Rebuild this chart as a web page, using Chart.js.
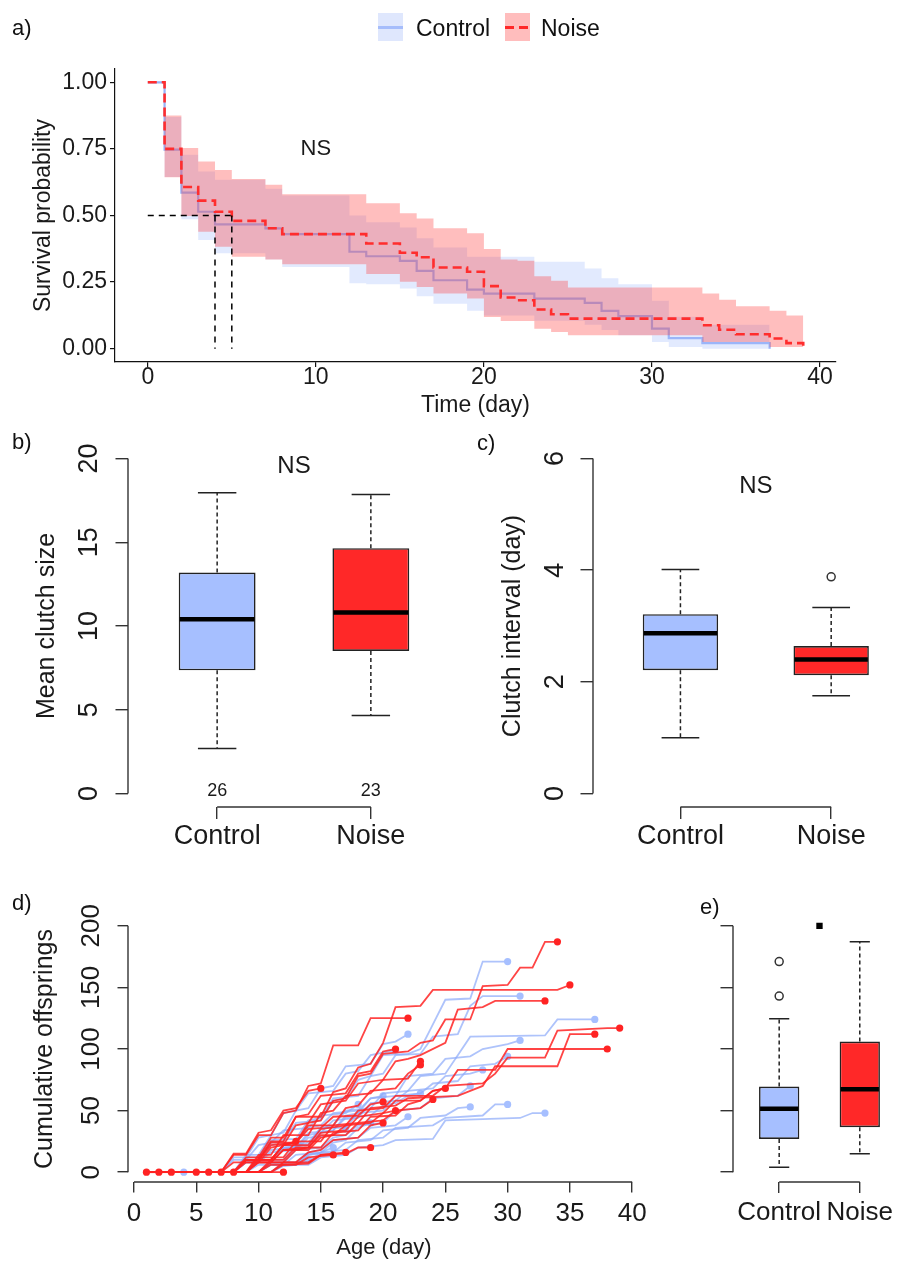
<!DOCTYPE html>
<html><head><meta charset="utf-8"><title>Survival and reproduction</title>
<script src="https://cdn.jsdelivr.net/npm/chart.js@4.4.1/dist/chart.umd.min.js"></script>
<style>
html,body{margin:0;padding:0;background:#fff;}
#wrap{position:relative;width:903px;height:1263px;overflow:hidden;font-family:"Liberation Sans",Arial,Helvetica,sans-serif;color:#111;}
#wrap canvas{position:absolute;}
.plab{position:absolute;font-size:22px;line-height:24px;color:#111;}
.key{position:absolute;top:13px;width:25px;height:28px;}
.key i{position:absolute;left:0;right:0;top:13px;height:3px;}
.ltxt{position:absolute;top:15px;font-size:23px;line-height:26px;white-space:nowrap;color:#111;}
</style></head><body>
<div id="wrap">
<canvas id="cA" width="903" height="420" style="left:0;top:0"></canvas>
<canvas id="cB" width="460" height="440" style="left:0;top:420px"></canvas>
<canvas id="cC" width="443" height="440" style="left:460px;top:420px"></canvas>
<canvas id="cD" width="690" height="403" style="left:0;top:860px"></canvas>
<canvas id="cE" width="213" height="403" style="left:690px;top:860px"></canvas>
<div class="plab" style="left:12px;top:16px">a)</div>
<div class="plab" style="left:12px;top:430px">b)</div>
<div class="plab" style="left:477px;top:431px">c)</div>
<div class="plab" style="left:12px;top:891px">d)</div>
<div class="plab" style="left:700px;top:895px">e)</div>
<div class="key" style="left:378px;background:#dfe7fd"><i style="background:#a6bdfb"></i></div>
<div class="ltxt" style="left:416px">Control</div>
<div class="key" style="left:505px;background:#ffbdbd"><i style="background:repeating-linear-gradient(90deg,#ff2828 0 9px,transparent 9px 14px)"></i></div>
<div class="ltxt" style="left:541px">Noise</div>
</div>
<script>
// ---------- Panel a : Kaplan-Meier survival (step starts, survival, 95% CI) ----------
const ctrlTime  = [0,1,2,3,4,7,8,12,13,15,16,17,19,20,23,26,27,28,30,31,33,37];
const ctrlSurv  = [1,0.747,0.586,0.514,0.467,0.452,0.430,0.364,0.347,0.330,0.292,0.257,0.222,0.207,0.188,0.172,0.142,0.122,0.075,0.040,0.021,0];
const ctrlUpper = [1,0.87,0.728,0.665,0.634,0.60,0.575,0.50,0.475,0.455,0.415,0.38,0.345,0.345,0.326,0.301,0.264,0.242,0.18,0.12,0.09];
const ctrlLower = [1,0.645,0.486,0.408,0.358,0.335,0.307,0.246,0.242,0.226,0.197,0.169,0.142,0.125,0.105,0.09,0.07,0.05,0.025,0.006,0];
const noiseTime  = [0,1,2,3,4,5,7,8,13,15,16,17,19,20,21,22,23,24,25,33,34,35,37,38,39];
const noiseSurv  = [1,0.75,0.607,0.556,0.514,0.480,0.452,0.430,0.395,0.360,0.343,0.305,0.289,0.235,0.192,0.182,0.147,0.129,0.113,0.088,0.071,0.054,0.038,0.021,0];
const noiseUpper = [1,0.875,0.753,0.703,0.671,0.637,0.615,0.58,0.546,0.508,0.489,0.452,0.433,0.374,0.335,0.33,0.272,0.255,0.230,0.207,0.184,0.159,0.142,0.125];
const noiseLower = [1,0.644,0.498,0.439,0.383,0.345,0.335,0.317,0.28,0.251,0.232,0.207,0.188,0.119,0.104,0.104,0.075,0.063,0.050,0.025,0.025,0.025,0.006,0.006];
const aXTicks = [0,10,20,30,40];
const aYTicks = [0,0.25,0.5,0.75,1];

// ---------- Panels b, c, e : box plots ----------
const groups = ['Control','Noise'];
const clutchLo=[2.69,4.66], clutchQ1=[7.36,8.51], clutchMed=[10.41,10.80], clutchQ3=[13.19,14.64], clutchHi=[17.95,17.85];
const clutchN=[26,23];
const bYTicks=[0,5,10,15,20];
const intLo=[1.0,1.75], intQ1=[2.21,2.12], intMed=[2.87,2.40], intQ3=[3.21,2.64], intHi=[4.01,3.33];
const intOut=[[],[3.88]];
const cYTicks=[0,2,4,6];
const offLo=[4,15], offQ1=[27,36.5], offMed=[51.4,67.4], offQ3=[69.5,106], offHi=[124.5,187];
const offOut=[[171,143],[]];
const offSig=[{x:1.5,y:200}];

// ---------- Panel d : cumulative offspring per individual (day, cumulative) ----------
const dXTicks=[0,5,10,15,20,25,30,35,40];
const dYTicks=[0,50,100,150,200];
const noiseTraj = [
 [1,0, 8,0, 9,10, 10,10, 11,24, 13,24, 14,40, 15,42, 16,58, 17,60, 18,78, 19,80, 20,96, 22,98, 23,105, 24,107, 25,124, 27,124, 28,151, 30,152, 31,166, 32,166, 33,187, 34,187],
 [1,0, 8,0, 9,10, 10,10, 11,25, 12,25, 13,45, 15,45, 16,65, 17,68, 18,85, 19,88, 20,105, 21,134, 23,135, 24,148, 34,148, 35,152],
 [1,0, 7,0, 8,8, 10,8, 11,20, 12,22, 13,38, 14,40, 15,55, 17,58, 18,72, 20,75, 21,90, 22,92, 23,95, 25,105, 26,132, 28,134, 29,139, 33,139],
 [1,0, 8,0, 9,10, 11,10, 12,22, 14,22, 15,35, 17,38, 18,50, 20,52, 21,62, 24,62, 25,70, 28,72, 29,80, 30,93, 33,93, 34,115, 38,117, 39,117],
 [1,0, 9,0, 10,12, 12,12, 13,25, 15,25, 16,38, 18,40, 19,52, 21,54, 22,60, 26,62, 27,66, 28,70, 29,86, 34,86, 35,112, 37,112],
 [1,0, 8,0, 9,8, 11,8, 12,18, 14,20, 15,32, 17,34, 18,45, 20,48, 21,58, 23,58, 24,66, 25,68, 26,83, 29,83, 30,100, 38,100],
 [1,0, 7,0, 8,14, 9,14, 10,30, 11,30, 12,48, 13,50, 14,70, 15,72, 16,103, 18,103, 19,125, 22,125],
 [1,0, 8,0, 9,12, 10,12, 11,28, 12,28, 13,45, 14,47, 15,62, 17,64, 18,80, 19,82, 20,98, 21,100],
 [1,0, 9,0, 10,14, 11,14, 12,30, 14,30, 15,48, 16,50, 17,62, 19,64, 20,75, 22,76, 23,90],
 [1,0, 8,0, 9,10, 11,10, 12,22, 13,24, 14,38, 16,38, 17,52, 18,54, 19,66, 21,68, 22,80, 23,87],
 [1,0, 10,0, 11,10, 12,10, 13,20, 15,20, 16,32, 18,34, 19,45, 21,46, 22,55, 23,58, 24,66, 25,68],
 [1,0, 9,0, 10,8, 12,8, 13,18, 14,20, 15,30, 17,30, 18,40, 20,42, 21,50, 23,52, 24,59],
 [1,0, 8,0, 9,10, 10,10, 11,22, 13,24, 14,35, 15,36, 16,45, 18,46, 19,55, 20,57],
 [1,0, 9,0, 10,8, 11,8, 12,18, 14,18, 15,28, 16,30, 17,38, 19,40, 20,48, 21,50],
 [1,0, 10,0, 11,8, 13,8, 14,16, 15,18, 16,26, 18,28, 19,38, 20,40],
 [1,0, 7,0, 8,15, 9,15, 10,32, 11,34, 12,50, 13,52, 14,66, 15,68],
 [1,0, 9,0, 10,10, 11,10, 12,22, 13,25],
 [1,0, 10,0, 11,6, 13,6, 14,12, 16,14],
 [1,0, 11,0, 12,8, 14,8, 15,14, 17,16],
 [1,0, 11,0, 12,6, 14,7, 15,14, 17,15, 18,20, 19,20],
 [1,0, 12,0],
 [1,0], [1,0, 2,0], [1,0, 3,0], [1,0, 5,0], [1,0, 6,0], [1,0, 7,0], [1,0, 8,0]
];
const ctrlTraj = [
 [1,0, 8,0, 9,10, 10,10, 11,24, 12,25, 13,40, 15,42, 16,58, 17,60, 18,75, 19,78, 20,95, 22,96, 23,100, 24,120, 25,140, 27,141, 28,171, 30,171],
 [1,0, 8,0, 9,12, 10,12, 11,26, 13,27, 14,42, 15,44, 16,60, 18,62, 19,78, 20,80, 21,95, 23,96, 24,110, 26,112, 27,135, 28,143, 31,143],
 [1,0, 9,0, 10,10, 11,10, 12,22, 14,22, 15,36, 16,38, 17,50, 19,52, 20,64, 22,66, 23,78, 25,80, 26,95, 27,110, 33,111, 34,124, 37,124],
 [1,0, 8,0, 9,8, 11,8, 12,20, 13,20, 14,32, 16,34, 17,46, 18,48, 19,60, 21,62, 22,78, 24,80, 25,92, 27,94, 28,100, 30,104, 31,107],
 [1,0, 9,0, 10,10, 12,10, 13,22, 14,24, 15,36, 17,36, 18,48, 20,50, 21,62, 23,64, 24,72, 26,74, 27,86, 29,88, 30,94],
 [1,0, 8,0, 9,8, 10,8, 11,18, 13,20, 14,30, 15,32, 16,42, 18,44, 19,56, 21,58, 22,66, 24,68, 25,78, 27,80, 28,83],
 [1,0, 9,0, 10,10, 11,10, 12,20, 14,22, 15,32, 16,34, 17,44, 19,46, 20,54, 21,56, 22,62, 23,64],
 [1,0, 10,0, 11,8, 12,8, 13,18, 15,20, 16,28, 17,30, 18,38, 20,40, 21,50, 23,52, 24,60, 26,62, 27,70],
 [1,0, 10,0, 11,6, 13,6, 14,14, 16,16, 17,24, 19,26, 20,34, 22,36, 23,44, 25,46, 26,52, 27,53],
 [1,0, 11,0, 12,8, 14,8, 15,16, 17,18, 18,26, 20,28, 21,36, 24,38, 25,44, 28,46, 29,55, 30,55],
 [1,0, 11,0, 12,6, 14,6, 15,12, 17,14, 18,20, 20,22, 21,26, 24,27, 25,42, 31,44, 32,48, 33,48],
 [1,0, 7,0, 8,12, 9,12, 10,28, 11,30, 12,48, 13,50, 14,64, 16,66, 17,80, 18,82, 19,95, 21,99],
 [1,0, 8,0, 9,14, 10,14, 11,30, 12,32, 13,50, 14,52, 15,68, 16,70, 17,86, 19,88, 20,104, 21,106, 22,112],
 [1,0, 8,0, 9,10, 10,10, 11,22, 13,24, 14,36, 15,38, 16,48, 18,50, 19,60, 20,62],
 [1,0, 10,0, 11,8, 13,8, 14,16, 15,18, 16,26, 18,28, 19,36, 21,38, 22,45],
 [1,0, 7,0, 8,10, 9,10, 10,22, 11,24, 12,34, 14,36, 15,46, 17,48, 18,55],
 [1,0, 9,0, 10,6, 12,6, 13,14, 15,16, 16,24, 17,26, 18,36, 19,40],
 [1,0, 8,0, 9,8, 10,8, 11,16, 13,18, 14,28, 16,30, 17,35],
 [1,0, 10,0, 11,6, 13,6, 14,14, 15,16, 16,20],
 [1,0, 11,0, 12,5, 13,6, 14,10],
 [1,0, 4,0]
];

// ---------- styling ----------
const FONT = '"Liberation Sans", Arial, Helvetica, sans-serif';
const INK = '#1a1a1a';
const BLUE = '#a6bfff', RED = '#ff2828';
Chart.defaults.font.family = FONT;
Chart.defaults.color = INK;

function pts(times, vals){ return vals.map((v,i)=>({x:times[i], y:v})); }
function band(times, vals){ const d = pts(times, vals); d.push({x:times[vals.length], y:vals[vals.length-1]}); return d; }
function pairs(a){ const d=[]; for(let i=0;i<a.length;i+=2) d.push({x:a[i], y:a[i+1]}); return d; }
function medianTime(times, surv){ for(let i=0;i<surv.length;i++) if(surv[i]<=0.5) return times[i]; return null; }
const setTicks = arr => s => { s.ticks = arr.map(v=>({value:v})); };

function baseOpts(){ return {responsive:false, devicePixelRatio:1, animation:false, events:[],
  plugins:{legend:{display:false}, tooltip:{enabled:false}}}; }

// R-style axes: lines span first..last tick, optional rotated y labels
function rAxis(cfg){
  return { id:'raxis', afterDraw(chart){
    const ctx=chart.ctx, ca=chart.chartArea;
    ctx.save(); ctx.strokeStyle='#333'; ctx.lineWidth=1.4;
    ['x','y'].forEach(k=>{
      const s=chart.scales[k], t=s.ticks; if(!t.length) return;
      const p0=s.getPixelForValue(t[0].value), p1=s.getPixelForValue(t[t.length-1].value);
      ctx.beginPath();
      if(k==='x'){ ctx.moveTo(p0,ca.bottom); ctx.lineTo(p1,ca.bottom); }
      else { ctx.moveTo(ca.left,p0); ctx.lineTo(ca.left,p1); }
      ctx.stroke();
    });
    if(cfg.yRot){
      const s=chart.scales.y;
      ctx.fillStyle=INK; ctx.font=cfg.yRot.size+'px '+FONT; ctx.textAlign='center'; ctx.textBaseline='middle';
      s.ticks.forEach(t=>{
        ctx.save(); ctx.translate(ca.left-cfg.yRot.off, s.getPixelForValue(t.value)); ctx.rotate(-Math.PI/2);
        ctx.fillText(String(t.value),0,0); ctx.restore();
      });
    }
    ctx.restore();
  }};
}
function texts(items){
  return { id:'texts', afterDraw(chart){
    const ctx=chart.ctx, xs=chart.scales.x, ys=chart.scales.y;
    ctx.save(); ctx.fillStyle=INK; ctx.textAlign='center'; ctx.textBaseline='middle';
    items.forEach(it=>{ ctx.font=it.size+'px '+FONT; ctx.fillText(it.text, xs.getPixelForValue(it.x), ys.getPixelForValue(it.y)+(it.dy||0)); });
    ctx.restore();
  }};
}
function boxExtras(s){
  return { id:'boxextras', afterDatasetsDraw(chart){
    const ctx=chart.ctx, ys=chart.scales.y, meta=chart.getDatasetMeta(0);
    const Y=v=>ys.getPixelForValue(v);
    s.med.forEach((m,i)=>{
      const el=meta.data[i], cx=el.x, hw=el.width/2;
      ctx.save(); ctx.strokeStyle='#222'; ctx.lineWidth=1.5;
      ctx.setLineDash([4,3]);
      ctx.beginPath(); ctx.moveTo(cx,Y(s.q3[i])); ctx.lineTo(cx,Y(s.hi[i]));
      ctx.moveTo(cx,Y(s.q1[i])); ctx.lineTo(cx,Y(s.lo[i])); ctx.stroke();
      ctx.setLineDash([]);
      ctx.beginPath(); ctx.moveTo(cx-hw/2,Y(s.hi[i])); ctx.lineTo(cx+hw/2,Y(s.hi[i]));
      ctx.moveTo(cx-hw/2,Y(s.lo[i])); ctx.lineTo(cx+hw/2,Y(s.lo[i])); ctx.stroke();
      ctx.strokeStyle='#000'; ctx.lineWidth=4.5;
      ctx.beginPath(); ctx.moveTo(cx-hw+1,Y(m)); ctx.lineTo(cx+hw-1,Y(m)); ctx.stroke();
      ctx.restore();
    });
  }};
}
function rScale(o){
  return Object.assign({type:'linear', offset:false, border:{display:false},
    grid:{drawOnChartArea:false, drawTicks:true, tickLength:o.tl, color:'#333', lineWidth:1.4, offset:false},
    afterBuildTicks:setTicks(o.ticks)}, o.extra||{});
}

// ================= Panel a =================
const medC = medianTime(ctrlTime, ctrlSurv), medN = medianTime(noiseTime, noiseSurv);
const medMax = Math.max(medC, medN);
const dash = {borderColor:'#000', borderWidth:1.5, borderDash:[6,5], pointRadius:0, fill:false, order:0};
new Chart(document.getElementById('cA'), {
  type:'line',
  data:{datasets:[
    Object.assign({data:[{x:0,y:0.5},{x:medMax,y:0.5}]}, dash),
    Object.assign({data:[{x:medC,y:0.5},{x:medC,y:0}]}, dash),
    Object.assign({data:[{x:medN,y:0.5},{x:medN,y:0}]}, dash),
    {label:'Noise', data:pts(noiseTime,noiseSurv), stepped:'before', borderColor:'#ff2d2d', borderWidth:2.6, borderDash:[9,5], pointRadius:0, fill:false, order:1},
    {data:band(noiseTime,noiseUpper), stepped:'before', borderWidth:0, pointRadius:0, fill:'+1', backgroundColor:'rgba(255,40,40,0.3)', order:2},
    {data:band(noiseTime,noiseLower), stepped:'before', borderWidth:0, pointRadius:0, fill:false, order:3},
    {data:band(ctrlTime,ctrlUpper), stepped:'before', borderWidth:0, pointRadius:0, fill:'+1', backgroundColor:'rgba(166,189,251,0.32)', order:4},
    {data:band(ctrlTime,ctrlLower), stepped:'before', borderWidth:0, pointRadius:0, fill:false, order:5},
    {label:'Control', data:pts(ctrlTime,ctrlSurv), stepped:'before', borderColor:'#97b2f8', borderWidth:2.2, pointRadius:0, fill:false, order:6}
  ]},
  options:Object.assign(baseOpts(), {
    layout:{padding:{left:0, top:69, right:67, bottom:0}},
    scales:{
      x:{type:'linear', min:-1.95, max:40.95, afterBuildTicks:setTicks(aXTicks), afterFit:s=>{s.height=58;},
         border:{display:true, color:'#111', width:1.2},
         grid:{drawOnChartArea:false, tickLength:5, color:'#111', lineWidth:1.2},
         ticks:{font:{size:23}, color:INK, padding:-3, maxRotation:0, autoSkip:false},
         title:{display:true, text:'Time (day)', font:{size:23}, color:INK, padding:{top:0,bottom:1}}},
      y:{type:'linear', min:-0.05, max:1.05, afterBuildTicks:setTicks(aYTicks), afterFit:s=>{s.width=115;},
         border:{display:true, color:'#111', width:1.2},
         grid:{drawOnChartArea:false, tickLength:5, color:'#111', lineWidth:1.2},
         ticks:{font:{size:23}, color:INK, padding:3, callback:v=>Number(v).toFixed(2)},
         title:{display:true, text:'Survival probability', font:{size:23}, color:INK, padding:{top:30,bottom:0}}}
    }
  }),
  plugins:[texts([{x:10, y:0.75, text:'NS', size:22}])]
});

// ================= Box plots =================
function boxChart(id, s){
  const outPts=[]; (s.out||[[],[]]).forEach((arr,i)=>arr.forEach(v=>outPts.push({x:i+1,y:v})));
  const ds=[
    {type:'bar', data:groups.map((g,i)=>({x:i+1, y:[s.q1[i], s.q3[i]]})), backgroundColor:[BLUE,RED],
     borderColor:'#222', borderWidth:1.6, borderSkipped:false, barPercentage:0.5, categoryPercentage:1, order:2},
    {type:'scatter', data:outPts, pointRadius:4, pointBackgroundColor:'rgba(0,0,0,0)', pointBorderColor:'#333', pointBorderWidth:1.5, order:1}
  ];
  if(s.sig) ds.push({type:'scatter', data:s.sig, pointStyle:'rect', pointRadius:4.5, pointBackgroundColor:'#000', pointBorderColor:'#000', pointBorderWidth:0, order:0});
  const plugins=[boxExtras(s), rAxis({yRot:s.yRot})];
  if(s.texts) plugins.push(texts(s.texts));
  return new Chart(document.getElementById(id), {
    type:'bar', data:{datasets:ds},
    options:Object.assign(baseOpts(), {
      layout:{padding:{left:0, top:s.top, right:0, bottom:0}},
      scales:{
        x:rScale({tl:s.xtl, ticks:[1,2], extra:{min:s.xmin, max:s.xmax, afterFit:sc=>{sc.height=s.xh;},
           ticks:{font:{size:s.xfs}, color:INK, padding:s.xpad, maxRotation:0, autoSkip:false, callback:v=>groups[Math.round(v)-1]}}}),
        y:rScale({tl:12.5, ticks:s.yticks, extra:{min:s.ymin, max:s.ymax, afterFit:sc=>{sc.width=s.yw;},
           ticks:{display:false},
           title:{display:!!s.ytitle, text:s.ytitle||'', font:{size:25}, color:INK, padding:{top:s.ytpad||0,bottom:0}}}})
      }
    }),
    plugins
  });
}
boxChart('cB', {lo:clutchLo, q1:clutchQ1, med:clutchMed, q3:clutchQ3, hi:clutchHi,
  top:25, xh:53, yw:128, xmin:0.42, xmax:2.58, ymin:-0.8, ymax:20.8, yticks:bYTicks, xtl:12, xfs:27, xpad:1.5,
  ytitle:'Mean clutch size', ytpad:32, yRot:{size:27, off:38},
  texts:[{x:1.5, y:19.5, text:'NS', size:24}].concat(clutchN.map((n,i)=>({x:i+1, y:0, text:String(n), size:18, dy:-3})))});
boxChart('cC', {lo:intLo, q1:intQ1, med:intMed, q3:intQ3, hi:intHi, out:intOut,
  top:25, xh:53, yw:133, xmin:0.42, xmax:2.44, ymin:-0.24, ymax:6.24, yticks:cYTicks, xtl:12, xfs:27, xpad:1.5,
  ytitle:'Clutch interval (day)', ytpad:38, yRot:{size:27, off:37},
  texts:[{x:1.5, y:5.5, text:'NS', size:24}]});
boxChart('cE', {lo:offLo, q1:offQ1, med:offMed, q3:offQ3, hi:offHi, out:offOut, sig:offSig,
  top:56, xh:81, yw:43, xmin:0.427, xmax:2.468, ymin:-8, ymax:208, yticks:dYTicks, xtl:11, xfs:26, xpad:4});

// ================= Panel d =================
const lastR = r => ctx => ctx.dataIndex === ctx.dataset.data.length-1 ? r : 0;
const dDatasets = [];
noiseTraj.forEach(a=>dDatasets.push({data:pairs(a), borderColor:'rgba(255,35,35,0.85)', borderWidth:1.8,
  pointRadius:lastR(3.6), pointBackgroundColor:'#ff2323', pointBorderWidth:0, fill:false, order:0}));
ctrlTraj.forEach(a=>dDatasets.push({data:pairs(a), borderColor:'rgba(140,170,250,0.7)', borderWidth:1.8,
  pointRadius:lastR(3.6), pointBackgroundColor:'#a6bfff', pointBorderWidth:0, fill:false, order:1}));
new Chart(document.getElementById('cD'), {
  type:'line', data:{datasets:dDatasets},
  options:Object.assign(baseOpts(), {
    layout:{padding:{left:0, top:56, right:50, bottom:0}},
    scales:{
      x:rScale({tl:10.5, ticks:dXTicks, extra:{min:-0.48, max:40.63, afterFit:sc=>{sc.height=81;},
         ticks:{font:{size:26}, color:INK, padding:6, maxRotation:0, autoSkip:false},
         title:{display:true, text:'Age (day)', font:{size:22}, color:INK, padding:{top:0,bottom:2}}}}),
      y:rScale({tl:10.5, ticks:dYTicks, extra:{min:-8, max:208, afterFit:sc=>{sc.width=128;},
         ticks:{display:false},
         title:{display:true, text:'Cumulative offsprings', font:{size:25}, color:INK, padding:{top:30,bottom:0}}}})
    }
  }),
  plugins:[rAxis({yRot:{size:26, off:36}})]
});
</script>
</body></html>
